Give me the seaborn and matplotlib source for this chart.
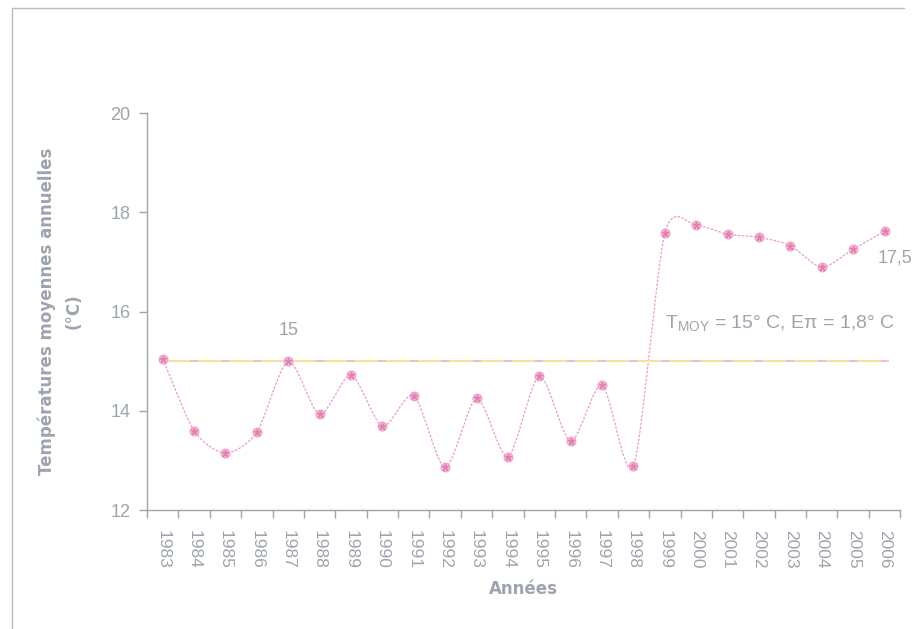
import numpy as np
import pandas as pd
import matplotlib
matplotlib.use("Agg")
import matplotlib.pyplot as plt
import seaborn as sns
from matplotlib.lines import Line2D

years = [str(y) for y in range(1983, 2007)]
temperatures = [15.05, 13.60, 13.15, 13.57, 15.00, 13.93, 14.72, 13.69, 14.31, 12.86,
                14.25, 13.08, 14.70, 13.39, 14.52, 12.88, 17.58, 17.74, 17.56, 17.50,
                17.33, 16.90, 17.26, 17.62]
mean_temp = [15.0] * len(years)
y_ticks = [12, 14, 16, 18, 20]

sns.set_theme(style="white")
plt.rcParams["font.family"] = ["Liberation Sans", "DejaVu Sans"]
plt.rcParams["mathtext.fontset"] = "custom"
plt.rcParams["mathtext.rm"] = "Liberation Sans"

GREY = "#9ea4ad"
PINK = "#ec9ac2"
YELLOW = "#f6e29a"

fig = plt.figure(figsize=(9.13, 6.29), dpi=100)
ax = fig.add_axes([0.161, 0.189, 0.825, 0.631])

pos = np.arange(len(years))
temps = np.asarray(temperatures)

# Smoothed connecting curve (cardinal spline through the yearly values)
def smooth_curve(x, y, n=20, k=0.8):
    px = np.concatenate([[2 * x[0] - x[1]], x, [2 * x[-1] - x[-2]]])
    py = np.concatenate([[2 * y[0] - y[1]], y, [2 * y[-1] - y[-2]]])
    t = np.linspace(0, 1, n, endpoint=False)
    h00 = 2 * t ** 3 - 3 * t ** 2 + 1
    h10 = t ** 3 - 2 * t ** 2 + t
    h01 = -2 * t ** 3 + 3 * t ** 2
    h11 = t ** 3 - t ** 2
    xs, ys = [], []
    for i in range(1, len(px) - 2):
        for arr, out in ((px, xs), (py, ys)):
            m1 = k * 0.5 * (arr[i + 1] - arr[i - 1])
            m2 = k * 0.5 * (arr[i + 2] - arr[i])
            out.append(h00 * arr[i] + h10 * m1 + h01 * arr[i + 1] + h11 * m2)
    xs.append([x[-1]])
    ys.append([y[-1]])
    return np.concatenate(xs), np.concatenate(ys)

sx, sy = smooth_curve(pos.astype(float), temps)
curve = pd.DataFrame({"x": sx, "y": sy})
sns.lineplot(data=curve, x="x", y="y", ax=ax, color=PINK, lw=0.9,
             linestyle=(0, (2, 1.2)), sort=False, estimator=None)

# Mean line with its small markers
mean_df = pd.DataFrame({"x": pos, "y": mean_temp})
sns.lineplot(data=mean_df, x="x", y="y", ax=ax, color=YELLOW, lw=1.5)
ax.plot(pos, mean_temp, linestyle="none", marker="_", markersize=6,
        color="#f3b6d2", mew=1.2)

# Yearly points
pts = pd.DataFrame({"x": pos, "y": temps})
sns.scatterplot(data=pts, x="x", y="y", ax=ax, s=38, color="#f7c8de",
                edgecolor="#eea2c8", linewidth=1.0, marker="o", zorder=5)
ax.plot(pos, temps, linestyle="none", marker="*", markersize=5,
        color="#e57fb3", zorder=6)

ax.set_xlim(-0.5, len(years) - 0.5)
ax.set_ylim(12, 20)
ax.set_yticks(y_ticks)
ax.set_yticklabels([str(v) for v in y_ticks])
ax.set_xticks(pos)
ax.set_xticklabels(years, rotation=-90)
ax.set_xticks(np.arange(len(years) + 1) - 0.5, minor=True)

for side in ["top", "right"]:
    ax.spines[side].set_visible(False)
for side in ["left", "bottom"]:
    ax.spines[side].set_color(GREY)
    ax.spines[side].set_linewidth(1.0)

ax.tick_params(axis="y", which="major", left=True, length=6, width=1,
               color=GREY, labelcolor=GREY, labelsize=13, pad=6)
ax.tick_params(axis="x", which="major", bottom=False, labelcolor=GREY,
               labelsize=12.5, pad=8)
ax.tick_params(axis="x", which="minor", bottom=True, length=6, width=1,
               color=GREY)

ax.set_xlabel("Années", color=GREY, fontsize=12, fontweight="bold",
              family=["DejaVu Sans"], labelpad=8)
ax.set_ylabel("Températures moyennes annuelles\n(°C)", color=GREY,
              fontsize=12, fontweight="bold", family=["DejaVu Sans"],
              labelpad=20, linespacing=1.6)

ax.text(4.0, 15.45, "15", color=GREY, fontsize=13, ha="center", va="bottom")
ax.text(22.78, 16.92, "17,5", color=GREY, fontsize=13, ha="left", va="bottom",
        clip_on=False)
ax.text(16.0, 15.55, r"T$_{\mathrm{MOY}}$ = 15° C, Eπ = 1,8° C", color=GREY,
        fontsize=14, ha="left", va="bottom")

ax.patch.set_alpha(0)
# Chart-area frame: left and top edges
fig.lines.append(Line2D([0.013, 0.013], [0.0, 0.988], transform=fig.transFigure,
                        color="#b8bcc4", lw=1.0))
fig.lines.append(Line2D([0.013, 0.99], [0.988, 0.988], transform=fig.transFigure,
                        color="#b8bcc4", lw=1.0))

fig.savefig("out.png", dpi=100, facecolor="white")
